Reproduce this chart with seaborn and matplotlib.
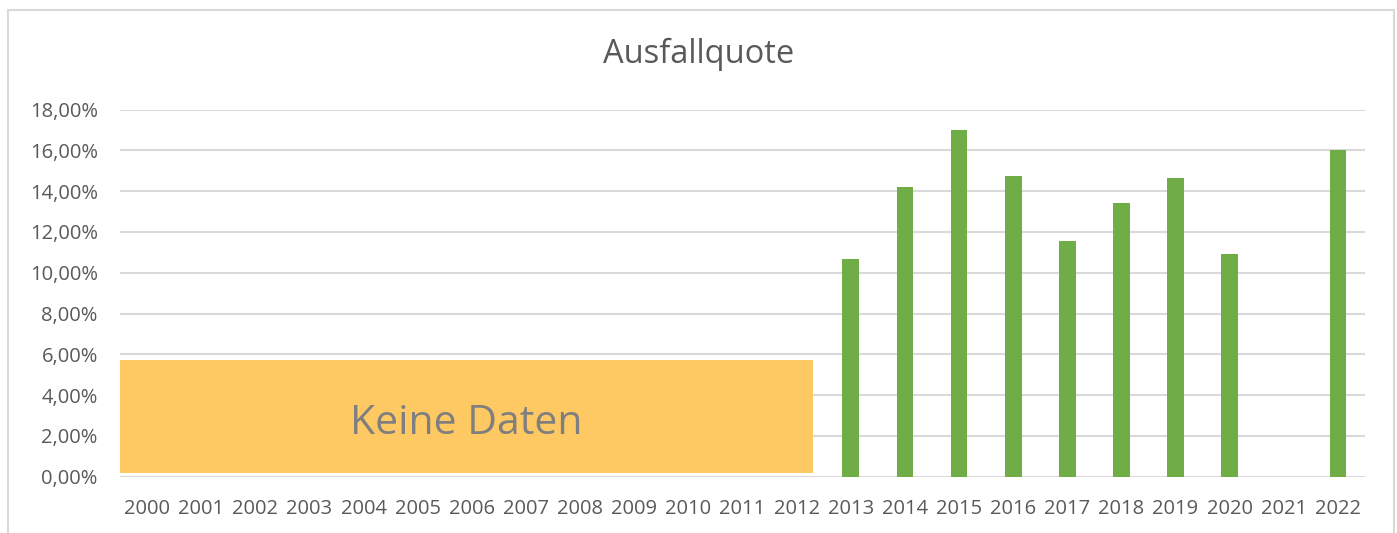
import numpy as np
import pandas as pd
import matplotlib
matplotlib.use('Agg')
import matplotlib.pyplot as plt
import matplotlib.ticker as mticker
from matplotlib.patches import Rectangle
import seaborn as sns

# data
years = [str(y) for y in range(2000, 2023)]
quota = [np.nan] * 13 + [10.66, 14.22, 17.0, 14.74, 11.54, 13.40, 14.63, 10.90, np.nan, 16.01]
no_data_label = 'Keine Daten'
no_data_years = ('2000', '2012')

df = pd.DataFrame({'year': years, 'quota': np.array(quota) / 100})

sns.set_style('white')
plt.rcParams['font.family'] = ['Open Sans', 'DejaVu Sans']
text_color = '#595959'

W, H = 1397, 533
fig = plt.figure(figsize=(W / 100, H / 100), dpi=100)
ax = fig.add_axes([120 / W, 1 - 476.7 / H, 1245 / W, 367.2 / H])

sns.barplot(data=df, x='year', y='quota', order=years, color='#70AD47',
            width=0.31, linewidth=0, saturation=1, ax=ax, zorder=3)

# "no data" box over the early years
x0 = years.index(no_data_years[0]) - 0.5
x1 = years.index(no_data_years[1]) + 0.31
ax.add_patch(Rectangle((x0, 0.002), x1 - x0, 0.0552, facecolor='#FEC962',
                       edgecolor='none', zorder=4))
ax.text(5.89, 0.0262, no_data_label, ha='center', va='center',
        fontsize=29.5, color='#7F7F7F', zorder=5)

ax.set_ylim(0, 0.18)
ax.set_xlim(-0.5, len(years) - 0.5)
ax.yaxis.set_major_locator(mticker.MultipleLocator(0.02))
ax.yaxis.set_major_formatter(mticker.FuncFormatter(
    lambda v, p: f'{v * 100:.2f}%'.replace('.', ',')))
ax.grid(axis='y', color='#D9D9D9', linewidth=1.5, zorder=0)
ax.set_axisbelow(True)
sns.despine(ax=ax, left=True, bottom=True)
ax.tick_params(axis='both', length=0, labelsize=14.5, labelcolor=text_color)
ax.tick_params(axis='x', pad=16)
ax.tick_params(axis='y', pad=16)
ax.set_xlabel('')
ax.set_ylabel('')

fig.text(0.5, 1 - 54 / H, 'Ausfallquote', ha='center', va='center',
         fontsize=23.5, color=text_color)

# light chart frame
fig.patches.append(Rectangle((8 / W, -0.05), (1394 - 8) / W, 1.05 - 10 / H,
                             transform=fig.transFigure, fill=False,
                             edgecolor='#D9D9D9', linewidth=1.5))

fig.savefig('out.png', dpi=100)
plt.close(fig)
